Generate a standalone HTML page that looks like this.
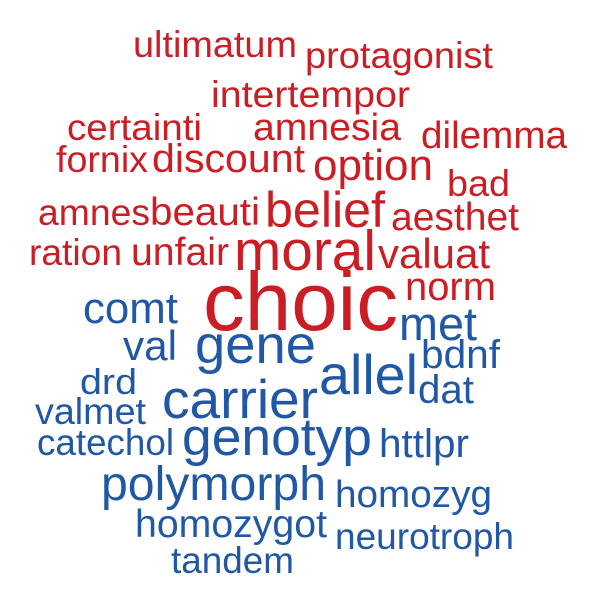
<!DOCTYPE html>
<html>
<head>
<meta charset="utf-8">
<style>
  html, body { margin: 0; padding: 0; background: #ffffff; }
  svg { display: block; }
  text { font-family: "Liberation Sans", Arial, sans-serif; }
</style>
</head>
<body>
<svg id="cloud" width="600" height="600" viewBox="0 0 600 600" xmlns="http://www.w3.org/2000/svg">
  <rect x="0" y="0" width="600" height="600" fill="#ffffff"/>
</svg>
<script>
// Word-cloud data: terms, relative weights (font size), and group
const words = ["ultimatum","protagonist","intertempor","certainti","amnesia","dilemma","fornix","discount","option","bad","amnes","beauti","belief","aesthet","ration","unfair","moral","valuat","choic","norm","comt","met","gene","val","bdnf","allel","drd","dat","carrier","valmet","catechol","genotyp","httlpr","polymorph","homozyg","homozygot","neurotroph","tandem"];
const sizes = [37,37,37,37,38,38,37,40,44,37,37,39,50,39,37,39,57,42,83,40,44,47,54,42,40,56,36,40,55,37,37,53,40,48,38,39,37,37];
const groups = ["moral","moral","moral","moral","moral","moral","moral","moral","moral","moral","moral","moral","moral","moral","moral","moral","moral","moral","moral","moral","gene","gene","gene","gene","gene","gene","gene","gene","gene","gene","gene","gene","gene","gene","gene","gene","gene","gene"];
// Layout (cloud placement): left x, baseline y, rendered width
const layoutX = [133,305,211,67,253,421,56,152,313,447,38,150,265,391,29,131,234,378,203,405,83,399,195,123,421,319,80,418,162,35,37,182,379,101,335,135,335,171];
const layoutY = [57,68,107,140,140,148,172,172,180,196,225,225,227,230,265,265,270,268,330,300,323,340,363,360,368,394,394,403,418,424,455,455,457,500,507,537,549,573];
const layoutW = [164,188,199,135,148,146,92,153,120,63,112,110,120,128,93,98,142,112,195,91,95,78,121,54,79,99,57,56,156,111,137,190,90,225,157,192,179,123];
const colors = { moral: "#cb1d24", gene: "#2058a5" };

const svg = document.getElementById('cloud');
const NS = "http://www.w3.org/2000/svg";
for (let i = 0; i < words.length; i++) {
  const t = document.createElementNS(NS, 'text');
  
  
  t.setAttribute('x', layoutX[i]);
  t.setAttribute('y', layoutY[i]);
  t.setAttribute('font-size', sizes[i]);
  t.setAttribute('fill', colors[groups[i]]);
  t.setAttribute('textLength', layoutW[i]);
  t.setAttribute('lengthAdjust', 'spacingAndGlyphs');
  t.textContent = words[i];
  svg.appendChild(t);
}
</script>
</body>
</html>
